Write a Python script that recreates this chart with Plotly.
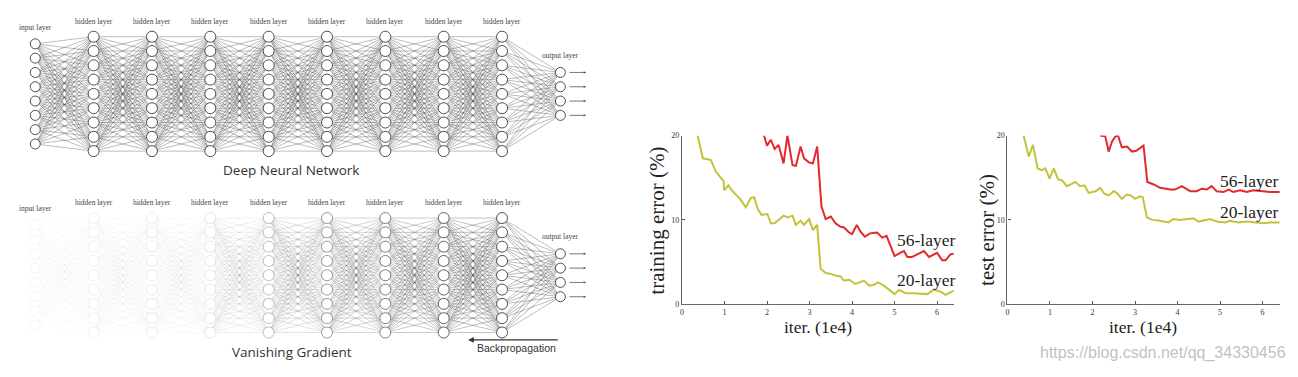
import plotly.graph_objects as go

# page body has an 8px margin, so the figure starts at (8, 8) in the window
OX, OY = 8, 8
W, H = 1282, 361

# ---------------- data ----------------
layer_sizes = [8, 9, 9, 9, 9, 9, 9, 9, 9, 4]
layer_names = ["input layer"] + ["hidden layer"] * 8 + ["output layer"]
# relative gradient strength reaching each layer (bottom diagram)
grad_strength = [0.06, 0.08, 0.10, 0.13, 0.35, 0.55, 0.72, 0.88, 1.0, 1.0]
full_strength = [1.0] * 10

# training error (%)
train20_x = [0.37, 0.49, 0.68, 0.80, 0.98, 0.99, 1.09, 1.19, 1.38, 1.50, 1.62, 1.70, 1.78, 1.87,
             2.01, 2.09, 2.18, 2.39, 2.48, 2.60, 2.68, 2.79, 2.87, 2.99, 3.08, 3.18, 3.26, 3.38,
             3.50, 3.61, 3.73, 3.81, 3.93, 4.08, 4.28, 4.40, 4.51, 4.61, 4.75, 4.87, 5.00, 5.10,
             5.26, 5.45, 5.77, 5.92, 6.08, 6.20, 6.39]
train20_y = [20.0, 17.3, 17.1, 15.7, 14.6, 13.5, 14.1, 13.4, 12.4, 11.5, 12.6, 12.7, 11.3, 10.6,
             10.7, 9.6, 9.6, 10.5, 10.3, 10.5, 9.4, 9.9, 9.4, 10.1, 8.8, 9.4, 4.2, 3.7,
             3.6, 3.4, 3.3, 2.8, 2.9, 2.4, 2.8, 2.2, 2.3, 2.6, 2.2, 1.7, 1.2, 1.7,
             1.3, 1.3, 1.2, 1.7, 1.5, 1.1, 1.6]
train56_x = [1.93, 2.00, 2.09, 2.18, 2.27, 2.39, 2.48, 2.60, 2.68, 2.79, 2.87, 2.99, 3.08, 3.18,
             3.28, 3.38, 3.50, 3.61, 3.72, 3.81, 3.93, 4.00, 4.11, 4.20, 4.30, 4.42, 4.59, 4.71,
             4.81, 5.00, 5.13, 5.22, 5.30, 5.41, 5.69, 5.81, 6.00, 6.12, 6.20, 6.31, 6.39]
train56_y = [20.0, 18.8, 19.5, 18.4, 18.9, 16.7, 20.0, 16.5, 16.4, 18.7, 17.3, 16.8, 16.7, 18.7,
             11.6, 10.1, 10.4, 9.6, 9.2, 9.1, 8.5, 8.3, 9.4, 8.6, 8.0, 8.4, 8.5, 7.9,
             8.1, 5.7, 6.1, 6.3, 5.6, 5.6, 6.3, 5.6, 6.1, 5.2, 5.2, 5.9, 6.0]

# test error (%)
test20_x = [0.38, 0.50, 0.60, 0.71, 0.81, 0.89, 0.99, 1.09, 1.19, 1.28, 1.40, 1.60, 1.71, 1.81,
            1.91, 2.07, 2.18, 2.28, 2.38, 2.50, 2.57, 2.69, 2.81, 2.90, 3.00, 3.11, 3.18, 3.28,
            3.40, 3.59, 3.79, 3.90, 4.06, 4.37, 4.49, 4.77, 4.92, 5.12, 5.23, 5.43, 5.63, 6.02,
            6.17, 6.41]
test20_y = [20.0, 17.5, 18.9, 16.1, 15.9, 16.1, 14.9, 16.1, 14.8, 14.7, 14.0, 14.5, 14.0, 14.1,
            13.2, 13.4, 13.8, 13.1, 12.9, 13.4, 13.2, 12.5, 13.0, 12.9, 12.5, 12.8, 12.7, 10.3,
            10.0, 9.9, 9.7, 10.1, 10.0, 10.2, 9.8, 10.1, 9.8, 9.7, 9.9, 9.7, 9.8, 9.6,
            9.7, 9.7]
test56_x = [2.18, 2.30, 2.38, 2.46, 2.54, 2.60, 2.69, 2.81, 2.93, 3.03, 3.20, 3.29, 3.44, 3.59,
            3.83, 3.94, 4.10, 4.30, 4.45, 4.57, 4.69, 4.80, 4.92, 5.08, 5.20, 5.31, 5.47, 5.63,
            5.78, 6.02, 6.17, 6.41]
test56_y = [20.0, 19.9, 18.1, 19.3, 19.9, 20.0, 18.6, 18.7, 18.1, 18.2, 18.8, 14.5, 14.2, 13.8,
            13.6, 13.6, 14.0, 13.4, 13.4, 13.7, 13.6, 14.0, 13.4, 13.3, 13.6, 13.3, 13.5, 13.3,
            13.5, 13.4, 13.3, 13.3]

x_ticks = [0, 1, 2, 3, 4, 5, 6]
y_ticks = [0, 10, 20]

RED = "#e5282c"
YEL = "#c4c23b"


def fx(p):  # window pixel x -> paper fraction
    return (p - OX) / W


def fy(p):  # window pixel y -> paper fraction
    return 1 - (p - OY) / H


fig = go.Figure()


def node_pos(n):
    return [j - (n - 1) / 2 for j in range(n)]


def add_network(xa, ya, strength):
    for k in range(len(layer_sizes) - 1):
        xs, ys = [], []
        for a in node_pos(layer_sizes[k]):
            for b in node_pos(layer_sizes[k + 1]):
                xs += [k, k + 1, None]
                ys += [a, b, None]
        alpha = 0.6 * (strength[k] + strength[k + 1]) / 2
        fig.add_trace(go.Scatter(x=xs, y=ys, mode="lines", xaxis=xa, yaxis=ya,
                                 line=dict(color=f"rgba(70,70,70,{alpha:.3f})", width=0.6),
                                 hoverinfo="skip", showlegend=False))
    for k, n in enumerate(layer_sizes):
        size = 11 if 0 < k < len(layer_sizes) - 1 else 10
        fig.add_trace(go.Scatter(x=[k] * n, y=node_pos(n), mode="markers", xaxis=xa, yaxis=ya,
                                 marker=dict(size=size, color="white",
                                             line=dict(color=f"rgba(50,50,50,{0.85*strength[k]:.3f})", width=1)),
                                 hoverinfo="skip", showlegend=False))


add_network("x", "y", full_strength)
add_network("x2", "y2", grad_strength)

for xs, ys, col, xa, ya in [(train20_x, train20_y, YEL, "x3", "y3"),
                            (train56_x, train56_y, RED, "x3", "y3"),
                            (test20_x, test20_y, YEL, "x4", "y4"),
                            (test56_x, test56_y, RED, "x4", "y4")]:
    fig.add_trace(go.Scatter(x=xs, y=ys, mode="lines", xaxis=xa, yaxis=ya,
                             line=dict(color=col, width=2), showlegend=False, hoverinfo="skip"))

CENTER = dict(xanchor="center", yanchor="middle", showarrow=False)

ann = []
small_serif = dict(family="Liberation Serif, Times New Roman, serif", size=7.5, color="#444")
for xr, yr in [("x", "y"), ("x2", "y2")]:
    for k, name in enumerate(layer_names):
        if k == 0:
            yy = -4.64
        elif k == len(layer_names) - 1:
            yy = -2.68
        else:
            yy = -5.09
        ann.append(dict(x=k, y=yy, xref=xr, yref=yr, text=name, font=small_serif, **CENTER))
    last = len(layer_sizes) - 1
    for u in node_pos(layer_sizes[-1]):
        ann.append(dict(x=last + 0.44, y=u, ax=last + 0.13, ay=u, xref=xr, yref=yr, axref=xr, ayref=yr,
                        text="", showarrow=True, arrowhead=2, arrowsize=0.6, arrowwidth=0.8,
                        arrowcolor="#555"))

title_font = dict(family="Open Sans, Noto Sans, sans-serif", size=13.5, color="#333")
ann.append(dict(x=4.39, y=5.32, xref="x", yref="y", text="Deep Neural Network", font=title_font, **CENTER))
ann.append(dict(x=4.40, y=5.39, xref="x2", yref="y2", text="Vanishing Gradient", font=title_font, **CENTER))
ann.append(dict(x=7.42, y=4.52, ax=8.98, ay=4.52, xref="x2", yref="y2", axref="x2", ayref="y2",
                text="", showarrow=True, arrowhead=2, arrowsize=0.8, arrowwidth=1.4, arrowcolor="#333"))
ann.append(dict(x=8.24, y=5.09, xref="x2", yref="y2", text="Backpropagation",
                font=dict(family="Liberation Sans Narrow, Liberation Sans, Arial, sans-serif", size=10.5, color="#333"),
                **CENTER))

serif = "Liberation Serif, Times New Roman, serif"
lab = dict(family=serif, size=17.5, color="#222")
ann += [
    dict(x=fx(656), y=fy(222), xref="paper", yref="paper", text="training error (%)", textangle=-90,
         font=dict(family=serif, size=21, color="#222"), **CENTER),
    dict(x=fx(987), y=fy(231), xref="paper", yref="paper", text="test error (%)", textangle=-90,
         font=dict(family=serif, size=21, color="#222"), **CENTER),
    dict(x=fx(817), y=fy(331), xref="paper", yref="paper", text="iter. (1e4)",
         font=dict(family=serif, size=17.5, color="#222"), **CENTER),
    dict(x=fx(1143), y=fy(331), xref="paper", yref="paper", text="iter. (1e4)",
         font=dict(family=serif, size=17.5, color="#222"), **CENTER),
    dict(x=fx(925), y=fy(241.7), xref="paper", yref="paper", text="56-layer", font=lab, **CENTER),
    dict(x=fx(925), y=fy(283.3), xref="paper", yref="paper", text="20-layer", font=lab, **CENTER),
    dict(x=fx(1249), y=fy(181), xref="paper", yref="paper", text="56-layer", font=lab, **CENTER),
    dict(x=fx(1249), y=fy(213.3), xref="paper", yref="paper", text="20-layer", font=lab, **CENTER),
    dict(x=fx(1288), y=fy(358), xref="paper", yref="paper", text="https://blog.csdn.net/qq_34330456",
         xanchor="right", yanchor="middle", showarrow=False,
         font=dict(family="Liberation Sans, Arial, sans-serif", size=16, color="rgba(185,185,185,0.9)")),
]

# network scales: layer i sits at window x = 33.3 + 58.44*i; node row u at y = centre + 14.67*u
LX0, LDX = 33.3, 58.44
NDY = 14.67
net_x = dict(range=[(OX - LX0) / LDX, (600 - LX0) / LDX], domain=[0, fx(600)],
             visible=False, fixedrange=True)
top_c, bot_c = 92.0, 278.0
top_y = dict(range=[(194 - top_c) / NDY, (OY - top_c) / NDY], domain=[fy(194), 1],
             visible=False, fixedrange=True)
bot_y = dict(range=[(OY + H - bot_c) / NDY, (194 - bot_c) / NDY], domain=[0, fy(194)],
             visible=False, fixedrange=True)

tickfont = dict(family=serif, size=8, color="#333")
chart_x = dict(range=[0, 6.4], tickvals=x_ticks, ticks="inside", ticklen=3, tickcolor="#555",
               showline=True, linecolor="#666", linewidth=1.2, showgrid=False, zeroline=False,
               tickfont=tickfont, fixedrange=True)
chart_y = dict(range=[0, 20], tickvals=y_ticks, ticks="inside", ticklen=3, tickcolor="#555",
               showline=True, linecolor="#666", linewidth=1.2, showgrid=False, zeroline=False,
               tickfont=tickfont, fixedrange=True, domain=[fy(307.7), fy(134.7)])

fig.update_layout(
    width=W, height=H, autosize=False,
    margin=dict(l=0, r=0, t=0, b=0),
    paper_bgcolor="white", plot_bgcolor="rgba(0,0,0,0)",
    showlegend=False,
    xaxis=dict(**net_x, anchor="y"),
    yaxis=dict(**top_y, anchor="x"),
    xaxis2=dict(**net_x, anchor="y2"),
    yaxis2=dict(**bot_y, anchor="x2"),
    xaxis3=dict(**chart_x, domain=[fx(681), fx(953.6)], anchor="y3"),
    yaxis3=dict(**chart_y, anchor="x3"),
    xaxis4=dict(**chart_x, domain=[fx(1007), fx(1279.6)], anchor="y4"),
    yaxis4=dict(**chart_y, anchor="x4"),
    annotations=ann,
)

fig.write_html("out.html")
